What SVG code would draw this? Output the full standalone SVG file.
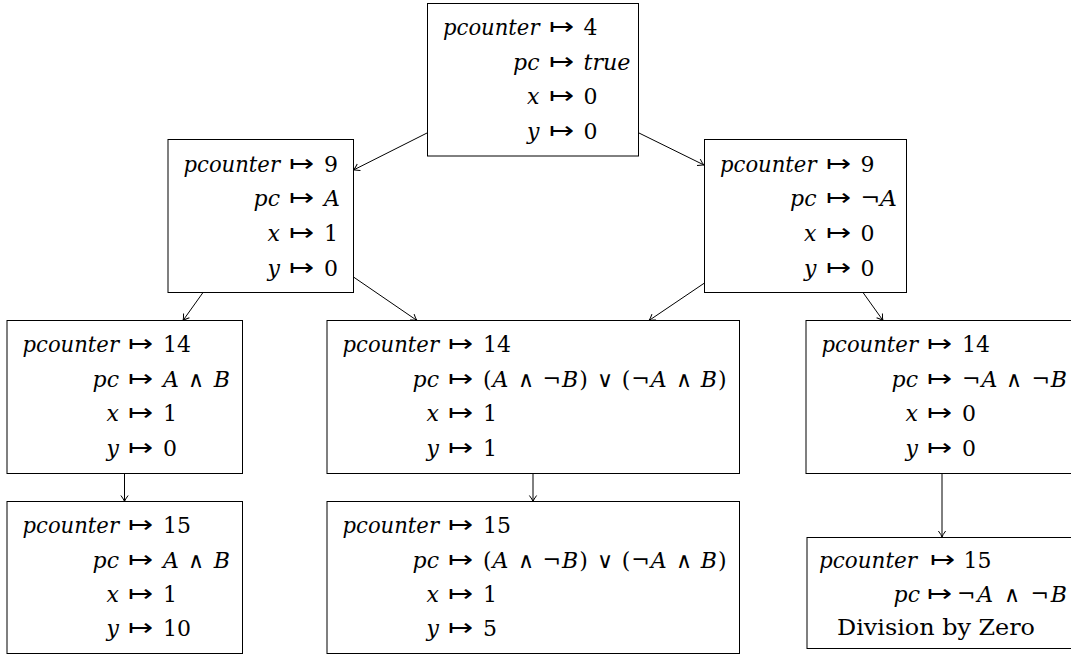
<svg xmlns="http://www.w3.org/2000/svg" width="1071" height="655" viewBox="0 0 1071 655">
<style>
text{font-family:"DejaVu Serif",serif;font-size:22px;fill:#000}
.i{font-style:italic}
text.m{font-family:"DejaVu Sans",sans-serif;font-size:24px;font-weight:200}
.o{font-family:"DejaVu Sans",sans-serif;font-weight:200}
.b{fill:#fff;stroke:#000;stroke-width:1}
.c{stroke:#000;stroke-width:1;fill:none;marker-end:url(#ah)}
</style>
<defs>
<marker id="ah" markerUnits="userSpaceOnUse" viewBox="-8 -5 10 10" refX="0" refY="0" markerWidth="10" markerHeight="10" orient="auto" overflow="visible">
<path d="M-6,-3.6 Q-2,-0.6 0,0 Q-2,0.6 -6,3.6" fill="none" stroke="#000" stroke-width="1"/>
</marker>
</defs>
<g id="connectors">
<line class="c" x1="427" y1="133" x2="353.5" y2="170"/>
<line class="c" x1="639" y1="133" x2="704" y2="165"/>
<line class="c" x1="203" y1="292.5" x2="183" y2="320.5"/>
<line class="c" x1="353.5" y1="277" x2="417" y2="320.5"/>
<line class="c" x1="704.5" y1="283" x2="649" y2="320.5"/>
<line class="c" x1="863" y1="292.5" x2="883" y2="320.5"/>
<line class="c" x1="124.5" y1="473.5" x2="124.5" y2="501.5"/>
<line class="c" x1="533" y1="473.5" x2="533" y2="501.5"/>
<line class="c" x1="942" y1="473.5" x2="942" y2="537"/>
</g>
<g id="n0" transform="translate(427.5,3.5)">
<rect class="b" x="0" y="0" width="211" height="152.5"/>
<text class="i" x="112" y="31.5" text-anchor="end" textLength="96.5" lengthAdjust="spacingAndGlyphs">pcounter</text>
<text class="m" x="121" y="31.5" textLength="25" lengthAdjust="spacingAndGlyphs">↦</text>
<text x="156" y="31.5">4</text>
<text class="i" x="112" y="66" text-anchor="end">pc</text>
<text class="m" x="121" y="66" textLength="25" lengthAdjust="spacingAndGlyphs">↦</text>
<text class="i" x="156" y="66" textLength="47" lengthAdjust="spacingAndGlyphs">true</text>
<text class="i" x="112" y="100.5" text-anchor="end">x</text>
<text class="m" x="121" y="100.5" textLength="25" lengthAdjust="spacingAndGlyphs">↦</text>
<text x="156" y="100.5">0</text>
<text class="i" x="112" y="135" text-anchor="end">y</text>
<text class="m" x="121" y="135" textLength="25" lengthAdjust="spacingAndGlyphs">↦</text>
<text x="156" y="135">0</text>
</g>
<g id="n1" transform="translate(168,139.5)">
<rect class="b" x="0" y="0" width="185.5" height="153"/>
<text class="i" x="112" y="32" text-anchor="end" textLength="96.5" lengthAdjust="spacingAndGlyphs">pcounter</text>
<text class="m" x="121" y="32" textLength="25" lengthAdjust="spacingAndGlyphs">↦</text>
<text x="156" y="32">9</text>
<text class="i" x="112" y="66.5" text-anchor="end">pc</text>
<text class="m" x="121" y="66.5" textLength="25" lengthAdjust="spacingAndGlyphs">↦</text>
<text class="i" x="156" y="66.5">A</text>
<text class="i" x="112" y="101" text-anchor="end">x</text>
<text class="m" x="121" y="101" textLength="25" lengthAdjust="spacingAndGlyphs">↦</text>
<text x="156" y="101">1</text>
<text class="i" x="112" y="136" text-anchor="end">y</text>
<text class="m" x="121" y="136" textLength="25" lengthAdjust="spacingAndGlyphs">↦</text>
<text x="156" y="136">0</text>
</g>
<g id="n2" transform="translate(704.5,139.5)">
<rect class="b" x="0" y="0" width="202" height="153"/>
<text class="i" x="112" y="32" text-anchor="end" textLength="96.5" lengthAdjust="spacingAndGlyphs">pcounter</text>
<text class="m" x="121" y="32" textLength="25" lengthAdjust="spacingAndGlyphs">↦</text>
<text x="156" y="32">9</text>
<text class="i" x="112" y="66.5" text-anchor="end">pc</text>
<text class="m" x="121" y="66.5" textLength="25" lengthAdjust="spacingAndGlyphs">↦</text>
<text x="156" y="66.5" textLength="36.5" lengthAdjust="spacingAndGlyphs">¬<tspan class="i">A</tspan></text>
<text class="i" x="112" y="101" text-anchor="end">x</text>
<text class="m" x="121" y="101" textLength="25" lengthAdjust="spacingAndGlyphs">↦</text>
<text x="156" y="101">0</text>
<text class="i" x="112" y="136" text-anchor="end">y</text>
<text class="m" x="121" y="136" textLength="25" lengthAdjust="spacingAndGlyphs">↦</text>
<text x="156" y="136">0</text>
</g>
<g id="n3" transform="translate(7,320.5)">
<rect class="b" x="0" y="0" width="235.5" height="153"/>
<text class="i" x="112" y="31.5" text-anchor="end" textLength="96.5" lengthAdjust="spacingAndGlyphs">pcounter</text>
<text class="m" x="121" y="31.5" textLength="25" lengthAdjust="spacingAndGlyphs">↦</text>
<text x="156" y="31.5">14</text>
<text class="i" x="112" y="66" text-anchor="end">pc</text>
<text class="m" x="121" y="66" textLength="25" lengthAdjust="spacingAndGlyphs">↦</text>
<text x="156" y="66" textLength="67" lengthAdjust="spacing"><tspan class="i">A</tspan> <tspan class="o">∧</tspan> <tspan class="i">B</tspan></text>
<text class="i" x="112" y="100.5" text-anchor="end">x</text>
<text class="m" x="121" y="100.5" textLength="25" lengthAdjust="spacingAndGlyphs">↦</text>
<text x="156" y="100.5">1</text>
<text class="i" x="112" y="135" text-anchor="end">y</text>
<text class="m" x="121" y="135" textLength="25" lengthAdjust="spacingAndGlyphs">↦</text>
<text x="156" y="135">0</text>
</g>
<g id="n4" transform="translate(327,320.5)">
<rect class="b" x="0" y="0" width="412.5" height="153"/>
<text class="i" x="112" y="31.5" text-anchor="end" textLength="96.5" lengthAdjust="spacingAndGlyphs">pcounter</text>
<text class="m" x="121" y="31.5" textLength="25" lengthAdjust="spacingAndGlyphs">↦</text>
<text x="156" y="31.5">14</text>
<text class="i" x="112" y="66" text-anchor="end">pc</text>
<text class="m" x="121" y="66" textLength="25" lengthAdjust="spacingAndGlyphs">↦</text>
<text x="156" y="66" textLength="243.5" lengthAdjust="spacing">(<tspan class="i">A</tspan> <tspan class="o">∧</tspan> ¬<tspan class="i">B</tspan>) <tspan class="o">∨</tspan> (¬<tspan class="i">A</tspan> <tspan class="o">∧</tspan> <tspan class="i">B</tspan>)</text>
<text class="i" x="112" y="100.5" text-anchor="end">x</text>
<text class="m" x="121" y="100.5" textLength="25" lengthAdjust="spacingAndGlyphs">↦</text>
<text x="156" y="100.5">1</text>
<text class="i" x="112" y="135" text-anchor="end">y</text>
<text class="m" x="121" y="135" textLength="25" lengthAdjust="spacingAndGlyphs">↦</text>
<text x="156" y="135">1</text>
</g>
<g id="n5" transform="translate(806,320.5)">
<rect class="b" x="0" y="0" width="272" height="153"/>
<text class="i" x="112" y="31.5" text-anchor="end" textLength="96.5" lengthAdjust="spacingAndGlyphs">pcounter</text>
<text class="m" x="121" y="31.5" textLength="25" lengthAdjust="spacingAndGlyphs">↦</text>
<text x="156" y="31.5">14</text>
<text class="i" x="112" y="66" text-anchor="end">pc</text>
<text class="m" x="121" y="66" textLength="25" lengthAdjust="spacingAndGlyphs">↦</text>
<text x="156" y="66" textLength="105" lengthAdjust="spacing">¬<tspan class="i">A</tspan> <tspan class="o">∧</tspan> ¬<tspan class="i">B</tspan></text>
<text class="i" x="112" y="100.5" text-anchor="end">x</text>
<text class="m" x="121" y="100.5" textLength="25" lengthAdjust="spacingAndGlyphs">↦</text>
<text x="156" y="100.5">0</text>
<text class="i" x="112" y="135" text-anchor="end">y</text>
<text class="m" x="121" y="135" textLength="25" lengthAdjust="spacingAndGlyphs">↦</text>
<text x="156" y="135">0</text>
</g>
<g id="n6" transform="translate(7,501.5)">
<rect class="b" x="0" y="0" width="235.5" height="152"/>
<text class="i" x="112" y="31" text-anchor="end" textLength="96.5" lengthAdjust="spacingAndGlyphs">pcounter</text>
<text class="m" x="121" y="31" textLength="25" lengthAdjust="spacingAndGlyphs">↦</text>
<text x="156" y="31">15</text>
<text class="i" x="112" y="66" text-anchor="end">pc</text>
<text class="m" x="121" y="66" textLength="25" lengthAdjust="spacingAndGlyphs">↦</text>
<text x="156" y="66" textLength="67" lengthAdjust="spacing"><tspan class="i">A</tspan> <tspan class="o">∧</tspan> <tspan class="i">B</tspan></text>
<text class="i" x="112" y="100" text-anchor="end">x</text>
<text class="m" x="121" y="100" textLength="25" lengthAdjust="spacingAndGlyphs">↦</text>
<text x="156" y="100">1</text>
<text class="i" x="112" y="134" text-anchor="end">y</text>
<text class="m" x="121" y="134" textLength="25" lengthAdjust="spacingAndGlyphs">↦</text>
<text x="156" y="134">10</text>
</g>
<g id="n7" transform="translate(327,501.5)">
<rect class="b" x="0" y="0" width="412.5" height="152"/>
<text class="i" x="112" y="31" text-anchor="end" textLength="96.5" lengthAdjust="spacingAndGlyphs">pcounter</text>
<text class="m" x="121" y="31" textLength="25" lengthAdjust="spacingAndGlyphs">↦</text>
<text x="156" y="31">15</text>
<text class="i" x="112" y="66" text-anchor="end">pc</text>
<text class="m" x="121" y="66" textLength="25" lengthAdjust="spacingAndGlyphs">↦</text>
<text x="156" y="66" textLength="243.5" lengthAdjust="spacing">(<tspan class="i">A</tspan> <tspan class="o">∧</tspan> ¬<tspan class="i">B</tspan>) <tspan class="o">∨</tspan> (¬<tspan class="i">A</tspan> <tspan class="o">∧</tspan> <tspan class="i">B</tspan>)</text>
<text class="i" x="112" y="100" text-anchor="end">x</text>
<text class="m" x="121" y="100" textLength="25" lengthAdjust="spacingAndGlyphs">↦</text>
<text x="156" y="100">1</text>
<text class="i" x="112" y="134" text-anchor="end">y</text>
<text class="m" x="121" y="134" textLength="25" lengthAdjust="spacingAndGlyphs">↦</text>
<text x="156" y="134">5</text>
</g>
<g id="n8" transform="translate(807,537.5)">
<rect class="b" x="0" y="0" width="271" height="111"/>
<text class="i" x="110" y="30.5" text-anchor="end" textLength="98" lengthAdjust="spacingAndGlyphs">pcounter</text>
<text class="m" x="123" y="30.5" textLength="25" lengthAdjust="spacingAndGlyphs">↦</text>
<text x="156.5" y="30.5">15</text>
<text class="i" x="113" y="64" text-anchor="end">pc</text>
<text class="m" x="119.5" y="64" textLength="25" lengthAdjust="spacingAndGlyphs">↦</text>
<text x="150" y="64" textLength="110" lengthAdjust="spacing">¬<tspan class="i">A</tspan> <tspan class="o">∧</tspan> ¬<tspan class="i">B</tspan></text>
<text x="129" y="97.5" text-anchor="middle" textLength="198" lengthAdjust="spacingAndGlyphs">Division by Zero</text>
</g>
</svg>
